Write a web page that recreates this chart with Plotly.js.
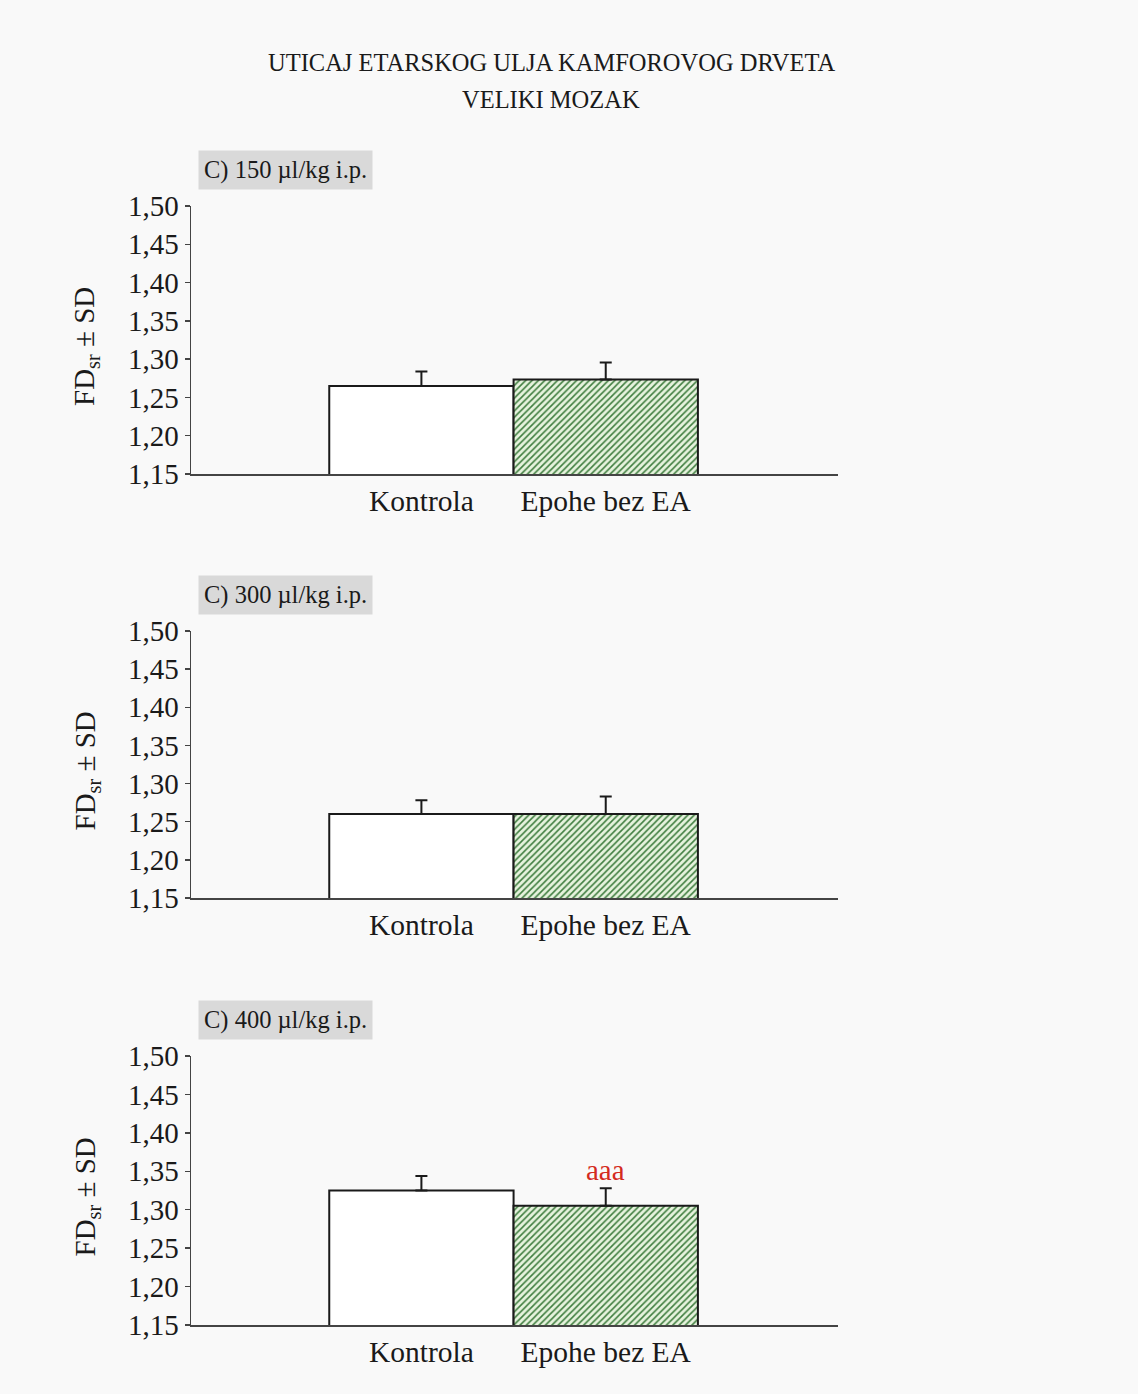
<!DOCTYPE html>
<html><head><meta charset="utf-8">
<script src="https://cdn.plot.ly/plotly-3.0.1.min.js"></script>
<style>body{margin:0;background:#f9f9f9}</style>
</head><body><div id="chart" style="width:1138px;height:1394px"></div>
<script>
const categories = ['Kontrola', 'Epohe bez EA'];
const panelLabels = ['C) 150 µl/kg i.p.', 'C) 300 µl/kg i.p.', 'C) 400 µl/kg i.p.'];
const mean150 = [1.265, 1.2735];
const sd150 = [0.019, 0.022];
const mean300 = [1.260, 1.260];
const sd300 = [0.018, 0.023];
const mean400 = [1.325, 1.305];
const sd400 = [0.019, 0.023];
const significance400 = ['', 'aaa'];
const yTicks = [1.15, 1.20, 1.25, 1.30, 1.35, 1.40, 1.45, 1.50];
const titleLines = ['UTICAJ ETARSKOG ULJA KAMFOROVOG DRVETA', 'VELIKI MOZAK'];
const yTitle = 'FD<sub>sr</sub> ± SD';

const W = 1138, H = 1394;
const FONT = 'Liberation Serif, Times New Roman, serif';
const INK = '#1a1a1a';
const means = [mean150, mean300, mean400];
const sds = [sd150, sd300, sd400];
const sigs = [['', ''], ['', ''], significance400];
// pixel geometry of panels (top of 1.50, bottom at 1.15)
const panelPx = [[206, 474], [631, 898], [1056, 1325]];
const xDom = [191 / W, 838 / W];

const data = [];
const layout = {
  width: W, height: H,
  margin: {l: 0, r: 0, t: 0, b: 0},
  paper_bgcolor: '#f9f9f9', plot_bgcolor: 'rgba(0,0,0,0)',
  font: {family: FONT, color: INK, size: 24},
  separators: ',.',
  showlegend: false,
  bargap: 0,
  annotations: [],
  shapes: []
};

titleLines.forEach((t, i) => {
  layout.annotations.push({
    text: t, xref: 'paper', yref: 'paper',
    x: 551 / W, y: 1 - (63 + 36 * i) / H,
    xanchor: 'center', yanchor: 'middle', showarrow: false,
    font: {family: FONT, size: 24.5, color: INK}
  });
});

for (let p = 0; p < 3; p++) {
  const sfx = p === 0 ? '' : String(p + 1);
  const [top, bot] = panelPx[p];
  // control bar (plain white)
  data.push({
    type: 'bar',
    x: [categories[0]], y: [means[p][0]],
    xaxis: 'x' + sfx, yaxis: 'y' + sfx,
    width: 1,
    marker: {color: '#ffffff', line: {color: INK, width: 2}},
    error_y: {type: 'data', symmetric: false, array: [sds[p][0]], arrayminus: [0],
              color: INK, thickness: 2, width: 6},
    hoverinfo: 'skip'
  });
  // treatment bar (green hatched)
  data.push({
    type: 'bar',
    x: [categories[1]], y: [means[p][1]],
    xaxis: 'x' + sfx, yaxis: 'y' + sfx,
    width: 1,
    marker: {
      color: '#e4f2da',
      line: {color: INK, width: 2},
      pattern: {shape: '/', fillmode: 'replace', bgcolor: '#e6f3dd', fgcolor: '#3f7d3f',
                fgopacity: 1, size: 4.5, solidity: 0.35}
    },
    error_y: {type: 'data', symmetric: false, array: [sds[p][1]], arrayminus: [0],
              color: INK, thickness: 2, width: 6},
    hoverinfo: 'skip'
  });
  layout['xaxis' + sfx] = {
    domain: xDom, anchor: 'y' + sfx, type: 'category',
    categoryorder: 'array', categoryarray: categories,
    range: [-1.25, 2.26],
    showline: true, linecolor: '#444', linewidth: 1.5,
    ticks: '',
    showgrid: false, zeroline: false,
    tickfont: {family: FONT, size: 29.5, color: INK}
  };
  layout['yaxis' + sfx] = {
    domain: [1 - bot / H, 1 - top / H], anchor: 'x' + sfx,
    range: [1.15, 1.50],
    tickvals: yTicks, tickformat: '.2f',
    showline: true, linecolor: '#444', linewidth: 1.5,
    ticks: 'outside', ticklen: 5, tickcolor: '#444', tickwidth: 1.5,
    showgrid: false, zeroline: false,
    tickfont: {family: FONT, size: 29, color: INK}
  };
  layout.annotations.push({
    text: yTitle, xref: 'paper', yref: 'paper', textangle: -90,
    x: 86 / W, y: 1 - (top + bot + 14) / 2 / H, xanchor: 'center', yanchor: 'middle',
    showarrow: false, font: {family: FONT, size: 29, color: INK}
  });
  layout.annotations.push({
    text: panelLabels[p], xref: 'paper', yref: 'paper',
    x: 198 / W, y: 1 - (top - 36) / H, xanchor: 'left', yanchor: 'middle',
    showarrow: false, bgcolor: '#d9d9d9', borderpad: 5,
    font: {family: FONT, size: 24.5, color: INK}
  });
  sigs[p].forEach((s, i) => {
    if (!s) return;
    layout.annotations.push({
      text: s, xref: 'x' + sfx, yref: 'y' + sfx,
      x: categories[i], y: means[p][i] + sds[p][i],
      xanchor: 'center', yanchor: 'bottom', yshift: 0, showarrow: false,
      font: {family: FONT, size: 29, color: '#d42a20'}
    });
  });
}

Plotly.newPlot('chart', data, layout, {displayModeBar: false, staticPlot: true});
</script></body></html>
